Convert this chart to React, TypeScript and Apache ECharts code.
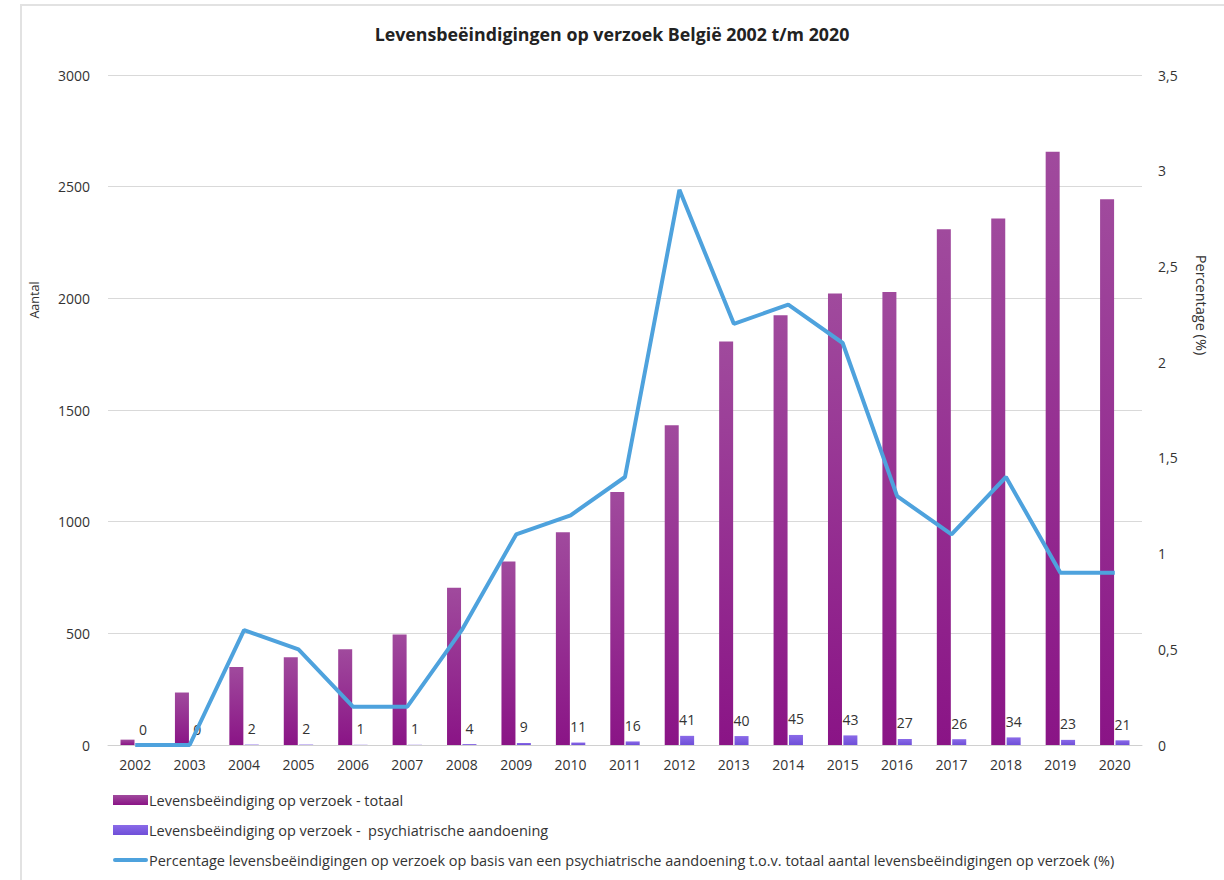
import React, { useEffect, useRef } from "react";
import * as echarts from "echarts";

const years = ["2002","2003","2004","2005","2006","2007","2008","2009","2010","2011","2012","2013","2014","2015","2016","2017","2018","2019","2020"];
const totaal = [24, 235, 349, 393, 429, 495, 704, 822, 953, 1133, 1432, 1807, 1924, 2022, 2028, 2309, 2357, 2656, 2444];
const psychiatrisch = [0, 0, 2, 2, 1, 1, 4, 9, 11, 16, 41, 40, 45, 43, 27, 26, 34, 23, 21];
const percentage = [0, 0, 0.6, 0.5, 0.2, 0.2, 0.6, 1.1, 1.2, 1.4, 2.9, 2.2, 2.3, 2.1, 1.3, 1.1, 1.4, 0.9, 0.9];

const nameTotaal = "Levensbeëindiging op verzoek - totaal";
const namePsych = "Levensbeëindiging op verzoek -  psychiatrische aandoening";
const namePct = "Percentage levensbeëindigingen op verzoek op basis van een psychiatrische aandoening t.o.v. totaal aantal levensbeëindigingen op verzoek (%)";

const FONT = "'Open Sans', sans-serif";

export default function App() {
  const ref = useRef<HTMLDivElement>(null);
  useEffect(() => {
    document.body.style.margin = "0";
    const chart = echarts.init(ref.current!, null, { renderer: "svg" });
    const totalColor = new echarts.graphic.LinearGradient(0, 0, 0, 1, [
      { offset: 0, color: "#a04a9d" },
      { offset: 1, color: "#8a1486" },
    ]);
    const psychColor = new echarts.graphic.LinearGradient(0, 0, 0, 1, [
      { offset: 0, color: "#8a6ae8" },
      { offset: 1, color: "#6f4fd8" },
    ]);
    chart.setOption({
      animation: false,
      backgroundColor: "#ffffff",
      textStyle: { fontFamily: FONT },
      title: {
        text: "Levensbeëindigingen op verzoek België 2002 t/m 2020",
        left: "center",
        top: 20,
        textStyle: { fontFamily: FONT, fontSize: 17.8, fontWeight: "bold", color: "#222" },
      },
      graphic: [
        {
          type: "rect",
          shape: { x: 21, y: 5, width: 1400, height: 1000 },
          style: { fill: "none", stroke: "#e2e2e2", lineWidth: 2 },
          silent: true,
        },
        {
          type: "text",
          x: 28,
          y: 300,
          rotation: Math.PI / 2,
          style: { text: "Aantal", fontFamily: FONT, fontSize: 12.5, fill: "#333", align: "center", verticalAlign: "top" },
        },
        {
          type: "text",
          x: 1201,
          y: 305,
          rotation: -Math.PI / 2,
          style: { text: "Percentage (%)", fontFamily: FONT, fontSize: 14.5, fill: "#333", align: "center", verticalAlign: "middle" },
        },
      ],
      legend: {
        orient: "vertical",
        left: 113,
        top: 792,
        padding: 0,
        itemGap: 14,
        itemWidth: 35,
        itemHeight: 10,
        textStyle: { fontFamily: FONT, fontSize: 14.5, lineHeight: 16, color: "#333", padding: [0, 0, 0, -4] },
        data: [
          { name: nameTotaal, icon: "rect" },
          { name: namePsych, icon: "rect" },
          { name: namePct, icon: "path://M2 0 H33 A2 2 0 0 1 33 4 H2 A2 2 0 0 1 2 0 Z" },
        ],
      },
      grid: { left: 108, right: 82, top: 75, bottom: 135, containLabel: false },
      xAxis: {
        type: "category",
        data: years,
        axisLine: { show: true, lineStyle: { color: "#d0d0d0", width: 1 } },
        axisTick: { show: false },
        axisLabel: { fontFamily: FONT, fontSize: 14, color: "#333", margin: 12 },
      },
      yAxis: [
        {
          type: "value",
          min: 0,
          max: 3000,
          interval: 500,
          axisLine: { show: false },
          axisTick: { show: false },
          splitLine: { lineStyle: { color: "#d9d9d9", width: 1 } },
          axisLabel: {
            fontFamily: FONT,
            fontSize: 14,
            color: "#333",
            margin: 18,
            formatter: (v: number) => String(v),
          },
        },
        {
          type: "value",
          min: 0,
          max: 3.5,
          interval: 0.5,
          axisLine: { show: false },
          axisTick: { show: false },
          splitLine: { show: false },
          axisLabel: {
            fontFamily: FONT,
            fontSize: 14,
            color: "#333",
            margin: 16,
            formatter: (v: number) => String(v).replace(".", ","),
          },
        },
      ],
      series: [
        {
          name: nameTotaal,
          type: "bar",
          yAxisIndex: 0,
          data: totaal,
          barWidth: 14,
          barGap: "10%",
          itemStyle: { color: totalColor },
        },
        {
          name: namePsych,
          type: "bar",
          yAxisIndex: 0,
          data: psychiatrisch,
          barWidth: 14,
          itemStyle: { color: psychColor },
          label: {
            show: true,
            position: "top",
            distance: 9,
            fontFamily: FONT,
            fontSize: 14,
            color: "#333",
          },
        },
        {
          name: namePct,
          type: "line",
          yAxisIndex: 1,
          data: percentage,
          symbol: "none",
          lineStyle: { color: "#4ea2dd", width: 4 },
          itemStyle: { color: "#4ea2dd" },
          z: 5,
        },
      ],
    });
    return () => chart.dispose();
  }, []);
  return <div ref={ref} style={{ width: 1224, height: 880 }} />;
}
